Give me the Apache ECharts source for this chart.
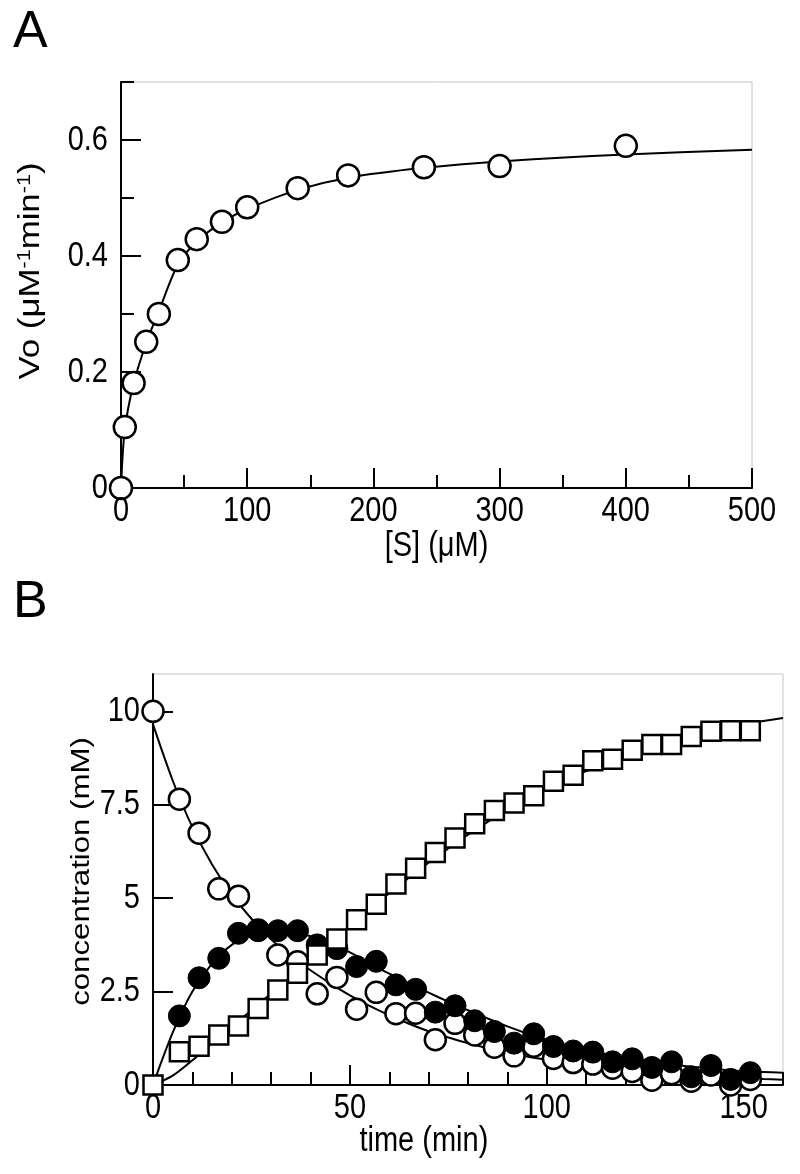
<!DOCTYPE html>
<html>
<head>
<meta charset="utf-8">
<script src="https://cdn.jsdelivr.net/npm/echarts@6/dist/echarts.min.js"></script>
<style>
html,body{margin:0;padding:0;background:#fff;}
#main{width:800px;height:1174px;}
</style>
</head>
<body>
<div id="main"></div>
<script>
// ---------- Panel A data ----------
const sConc = [0, 3, 10, 20, 30, 45, 60, 80, 100, 140, 180, 240, 300, 400];
const vo = [0, 0.105, 0.181, 0.252, 0.300, 0.393, 0.429, 0.459, 0.484, 0.517, 0.539, 0.553, 0.555, 0.590];
const fitS = [0, 3, 10, 20, 30, 45, 60, 80, 100, 140, 180, 240, 300, 400, 500];
const fitV = [0, 0.10, 0.18, 0.25, 0.305, 0.385, 0.425, 0.458, 0.481, 0.514, 0.535, 0.552, 0.563, 0.575, 0.583];
const aXMajor = [0, 100, 200, 300, 400, 500];
const aXMinor = [50, 150, 250, 350, 450];
const aYMajor = [0, 0.2, 0.4, 0.6];
const aYMinor = [0.1, 0.3, 0.5, 0.7];

// ---------- Panel B data ----------
const time = [0, 6.7, 11.7, 16.7, 21.7, 26.7, 31.7, 36.7, 41.7, 46.7, 51.7, 56.7, 61.7, 66.7, 71.7, 76.7,
  81.7, 86.7, 91.7, 96.7, 101.7, 106.7, 111.7, 116.7, 121.7, 126.7, 131.7, 136.7, 141.7, 146.7, 151.7];
const substrate = [10, 7.65, 6.74, 5.25, 5.05, 4.15, 3.48, 3.30, 2.44, 2.88, 2.03, 2.48, 1.91, 1.92, 1.21, 1.65,
  1.34, 1.01, 0.78, 1.04, 0.71, 0.60, 0.56, 0.45, 0.36, 0.13, 0.30, 0.10, 0.27, 0.0, 0.15];
const intermediate = [null, 1.85, 2.87, 3.39, 4.06, 4.13, 4.13, 4.13, 3.75, 3.65, 3.17, 3.31, 2.68, 2.56, 1.95, 2.12,
  1.72, 1.43, 1.12, 1.37, 1.03, 0.91, 0.88, 0.62, 0.70, 0.47, 0.62, 0.22, 0.52, 0.15, 0.33];
const product = [0, 0.89, 1.04, 1.34, 1.58, 2.05, 2.54, 2.99, 3.48, 3.91, 4.42, 4.84, 5.38, 5.80, 6.22, 6.61,
  6.99, 7.35, 7.55, 7.74, 8.13, 8.29, 8.68, 8.72, 8.96, 9.11, 9.11, 9.33, 9.47, 9.48, 9.48];
const fitT = [0, 5, 10, 15, 20, 25, 30, 35, 40, 45, 50, 55, 60, 65, 70, 75, 80,
  85, 90, 95, 100, 105, 110, 115, 120, 125, 130, 135, 140, 145, 150, 155, 160];
const fitSub = [9.65, 8.15, 6.9, 5.9, 5.1, 4.45, 3.9, 3.45, 3.07, 2.72, 2.4, 2.12, 1.87, 1.64, 1.44, 1.27, 1.12,
  0.98, 0.87, 0.76, 0.67, 0.59, 0.52, 0.46, 0.41, 0.36, 0.32, 0.28, 0.25, 0.22, 0.19, 0.16, 0.14];
const fitInt = [0, 1.4, 2.5, 3.25, 3.75, 4.02, 4.12, 4.1, 3.98, 3.8, 3.55, 3.27, 2.98, 2.72, 2.47, 2.23, 2.0,
  1.78, 1.57, 1.38, 1.21, 1.06, 0.94, 0.83, 0.74, 0.66, 0.58, 0.51, 0.46, 0.41, 0.37, 0.35, 0.33];
const fitProd = [0, 0.25, 0.66, 1.12, 1.56, 2.0, 2.45, 2.9, 3.35, 3.8, 4.25, 4.7, 5.13, 5.55, 5.95, 6.33, 6.7,
  7.04, 7.36, 7.65, 7.92, 8.17, 8.4, 8.61, 8.8, 8.98, 9.14, 9.29, 9.42, 9.54, 9.65, 9.74, 9.82];
const bXMajor = [0, 50, 100, 150];
const bXMinor = [10, 20, 30, 40, 60, 70, 80, 90, 110, 120, 130, 140, 160];
const bYMajor = [0, 2.5, 5, 7.5, 10];

// ---------- texts ----------
const panelLabels = ['A', 'B'];
const aXTitle = '[S] (μM)';
const aYTitle = '{t|Vo (μM}{s|-1}{t|min}{s|-1}{t|)}';
const bXTitle = 'time (min)';
const bYTitle = 'concentration (mM)';

const zip = (xs, ys) => xs.map((x, i) => [x, ys[i]]).filter(p => p[1] !== null);

const SANS = "'Liberation Sans', Arial, Helvetica, sans-serif";
const STRETCH = 1.2;

function majorAxis(gridIndex, min, max, ticks, pos) {
  return {
    type: 'value', gridIndex, min, max, position: pos,
    axisLine: { show: true, onZero: false, lineStyle: { color: '#000', width: 2 } },
    axisTick: { show: true, inside: true, length: 20, customValues: ticks, lineStyle: { color: '#000', width: 2 } },
    axisLabel: { show: false },
    splitLine: { show: false }
  };
}
function minorAxis(gridIndex, min, max, ticks, pos) {
  return {
    type: 'value', gridIndex, min, max, position: pos,
    axisLine: { show: false, onZero: false },
    axisTick: { show: true, inside: true, length: 13, customValues: ticks, lineStyle: { color: '#000', width: 2 } },
    axisLabel: { show: false },
    splitLine: { show: false }
  };
}

const openCircle = { color: '#fff', borderColor: '#000', borderWidth: 2.5, opacity: 1 };
const lineStyle = { color: '#000', width: 2 };
const fitLine = (xi, yi, xs, ys) => ({
  type: 'line', xAxisIndex: xi, yAxisIndex: yi, data: zip(xs, ys), smooth: 0.3,
  showSymbol: false, lineStyle, z: 2, silent: true
});

const option = {
  animation: false,
  backgroundColor: '#fff',
  title: [
    { text: panelLabels[0], left: 8, top: 2, textStyle: { fontSize: 52, fontWeight: 'normal', color: '#000', fontFamily: SANS } },
    { text: panelLabels[1], left: 8, top: 572, textStyle: { fontSize: 52, fontWeight: 'normal', color: '#000', fontFamily: SANS } }
  ],
  grid: [
    { left: 121, top: 82, width: 631, height: 406, show: true, borderColor: '#c4c4c4', borderWidth: 1 },
    { left: 153, top: 674, width: 630, height: 411, show: true, borderColor: '#c4c4c4', borderWidth: 1 }
  ],
  xAxis: [
    majorAxis(0, 0, 500, aXMajor, 'bottom'),
    minorAxis(0, 0, 500, aXMinor, 'bottom'),
    majorAxis(1, 0, 160, bXMajor, 'bottom'),
    minorAxis(1, 0, 160, bXMinor, 'bottom')
  ],
  yAxis: [
    majorAxis(0, 0, 0.7, aYMajor, 'left'),
    minorAxis(0, 0, 0.7, aYMinor, 'left'),
    majorAxis(1, 0, 11, bYMajor, 'left')
  ],
  series: [
    fitLine(0, 0, fitS, fitV),
    { type: 'scatter', xAxisIndex: 0, yAxisIndex: 0, data: zip(sConc, vo), symbol: 'circle', symbolSize: 22,
      itemStyle: openCircle, z: 3 },

    fitLine(2, 2, fitT, fitSub),
    fitLine(2, 2, fitT, fitInt),
    fitLine(2, 2, fitT, fitProd),
    { type: 'scatter', xAxisIndex: 2, yAxisIndex: 2, data: zip(time, substrate), symbol: 'circle', symbolSize: 21,
      itemStyle: openCircle, z: 3 },
    { type: 'scatter', xAxisIndex: 2, yAxisIndex: 2, data: zip(time, intermediate), symbol: 'circle', symbolSize: 22,
      itemStyle: { color: '#000', borderColor: '#000', borderWidth: 1, opacity: 1 }, z: 4 },
    { type: 'scatter', xAxisIndex: 2, yAxisIndex: 2, data: zip(time, product), symbol: 'rect', symbolSize: 19,
      itemStyle: { color: '#fff', borderColor: '#000', borderWidth: 2.5, opacity: 1 }, z: 5 }
  ]
};

const chart = echarts.init(document.getElementById('main'), null, { renderer: 'canvas' });
chart.setOption(option);

// ---------- tick labels and axis titles as (vertically stretched) real text ----------
const px = (axis, idx, v) => chart.convertToPixel(axis === 'x' ? { xAxisIndex: idx } : { yAxisIndex: idx }, v);
const graphics = [];
function txt(text, x, y, align, vAlign, size, extra) {
  graphics.push(Object.assign({
    type: 'text', x, y, scaleY: STRETCH, silent: true, z: 100,
    style: { text, fontSize: size, fontFamily: SANS, fill: '#000', align, verticalAlign: vAlign }
  }, extra || {}));
}
function xLabels(xi, yi, vals, yMin) {
  const y0 = px('y', yi, yMin);
  vals.forEach(v => txt(String(v), px('x', xi, v), y0 + 23, 'center', 'middle', 29));
}
function yLabels(xi, yi, vals, xMin) {
  const x0 = px('x', xi, xMin);
  vals.forEach(v => txt(String(v), x0 - 13, px('y', yi, v), 'right', 'middle', 29));
}
xLabels(0, 0, aXMajor, 0);
yLabels(0, 0, aYMajor, 0);
xLabels(2, 2, bXMajor, 0);
yLabels(2, 2, bYMajor, 0);

// x-axis titles
const aY0 = px('y', 0, 0), aX0 = px('x', 0, 0), aX1 = px('x', 0, 500), aYTop = px('y', 0, 0.7);
const bY0 = px('y', 2, 0), bX0 = px('x', 2, 0), bX1 = px('x', 2, 160), bYTop = px('y', 2, 11);
txt(aXTitle, (aX0 + aX1) / 2, aY0 + 58, 'center', 'middle', 29);
txt(bXTitle, bX0 + (bX1 - bX0) * 0.43, bY0 + 56, 'center', 'middle', 29);

// y-axis titles (rotated, stretched along the text)
graphics.push({
  type: 'text', x: aX0 - 90, y: (aY0 + aYTop) / 2 - 14, rotation: Math.PI / 2, scaleX: STRETCH, silent: true, z: 100,
  style: {
    text: aYTitle, align: 'center', verticalAlign: 'middle',
    rich: {
      t: { fontSize: 29, fontFamily: SANS, fill: '#000' },
      s: { fontSize: 18, fontFamily: SANS, fill: '#000', verticalAlign: 'top', padding: [0, 0, 12, 0] }
    }
  }
});
graphics.push({
  type: 'text', x: bX0 - 71, y: (bY0 + bYTop) / 2 - 8, rotation: Math.PI / 2, scaleX: STRETCH, silent: true, z: 100,
  style: { text: bYTitle, fontSize: 26, fontFamily: SANS, fill: '#000', align: 'center', verticalAlign: 'middle' }
});

chart.setOption({ graphic: graphics });
</script>
</body>
</html>
